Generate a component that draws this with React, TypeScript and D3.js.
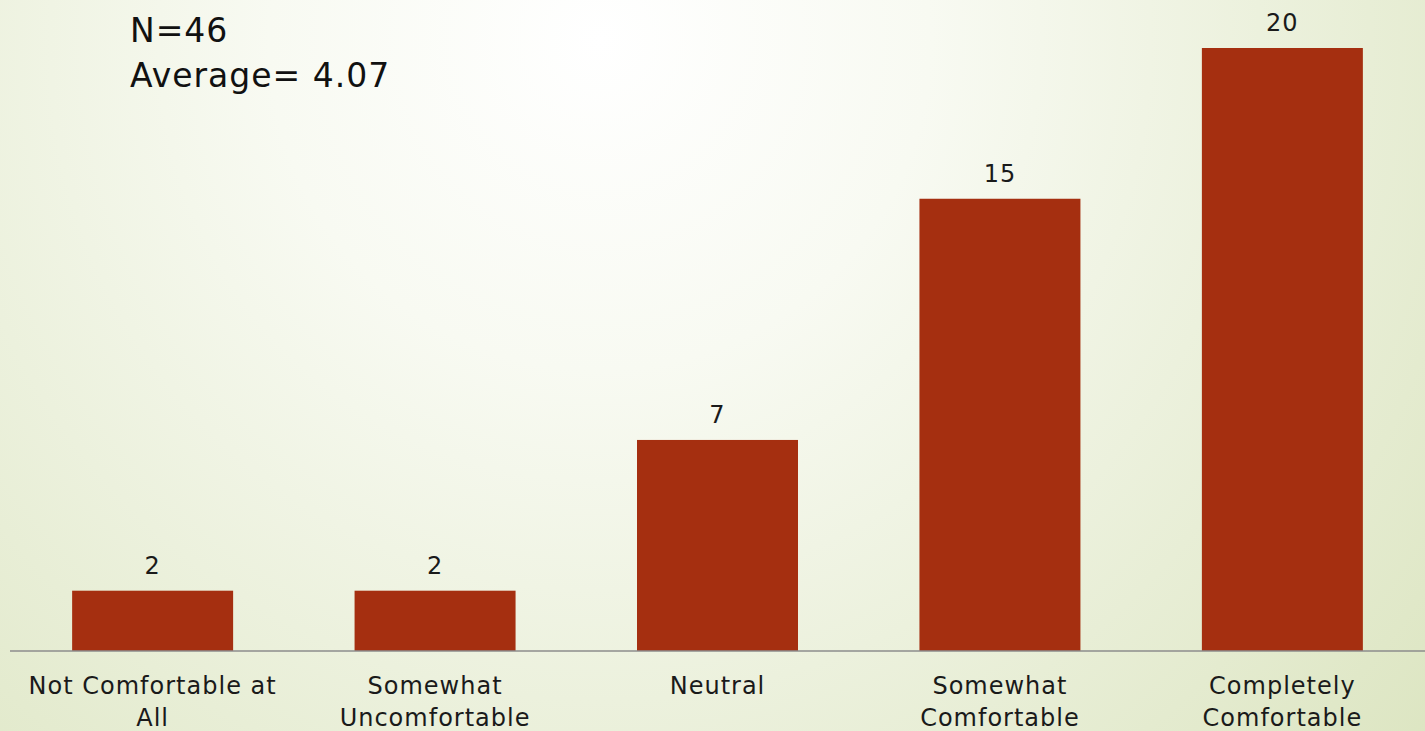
import React from "react";
import * as d3 from "d3";

const categories: string[][] = [
  ["Not Comfortable at", "All"],
  ["Somewhat", "Uncomfortable"],
  ["Neutral"],
  ["Somewhat", "Comfortable"],
  ["Completely", "Comfortable"],
];
const values: number[] = [2, 2, 7, 15, 20];
const notes: string[] = ["N=46", "Average= 4.07"];

const W = 1425;
const H = 731;
const FONT = "'DejaVu Sans', sans-serif";

export default function App() {
  const keys = categories.map((_, i) => String(i));
  const x = d3.scaleBand<string>().domain(keys).range([10, 1425]).paddingInner(0.43).paddingOuter(0.22);
  const y = d3.scaleLinear().domain([0, 20]).range([651, 48]);

  return (
    <svg
      width={W}
      height={H}
      style={{ position: "absolute", left: 0, top: 0, display: "block" }}
    >
      <defs>
        <radialGradient id="bg" cx="600" cy="40" r="1100" gradientUnits="userSpaceOnUse">
          <stop offset="0" stopColor="#ffffff" />
          <stop offset="0.3" stopColor="#f8faf2" />
          <stop offset="1" stopColor="#dce5c1" />
        </radialGradient>
      </defs>
      <rect x={0} y={0} width={W} height={H} fill="url(#bg)" />
      {values.map((v, i) => (
        <g key={i}>
          <rect
            x={x(keys[i])!}
            y={y(v)}
            width={x.bandwidth()}
            height={y(0) - y(v)}
            fill="#a52f10"
          />
          <text
            x={x(keys[i])! + x.bandwidth() / 2}
            y={y(v) - 17}
            textAnchor="middle"
            fontFamily={FONT}
            fontSize={24}
            letterSpacing={1}
            fill="#1a1a1a"
          >
            {v}
          </text>
          {categories[i].map((line, j) => (
            <text
              key={j}
              x={x(keys[i])! + x.bandwidth() / 2}
              y={694 + j * 32}
              textAnchor="middle"
              fontFamily={FONT}
              fontSize={24}
              letterSpacing={1}
              fill="#1a1a1a"
            >
              {line}
            </text>
          ))}
        </g>
      ))}
      <line x1={10} x2={1425} y1={y(0)} y2={y(0)} stroke="#8c8c8c" strokeWidth={1.5} />
      {notes.map((t, i) => (
        <text key={i} x={130} y={42 + i * 45} fontFamily={FONT} fontSize={33} letterSpacing={1} fill="#111">
          {t}
        </text>
      ))}
    </svg>
  );
}
